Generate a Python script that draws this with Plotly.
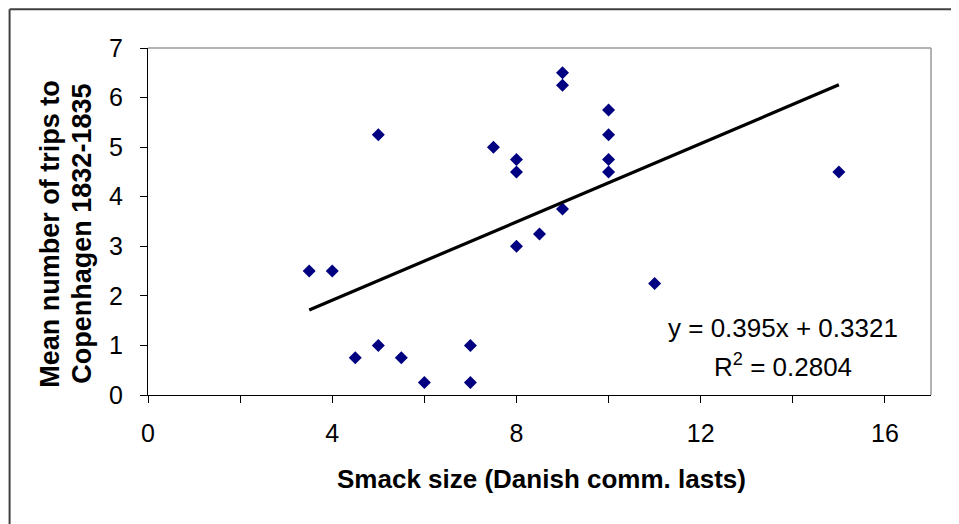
import plotly.graph_objects as go

# Data
smack_size = [3.5, 4, 4.5, 5, 5, 5.5, 6, 7, 7, 7.5, 8, 8, 8, 8.5, 9, 9, 9, 10, 10, 10, 10, 11, 15]
mean_trips = [2.5, 2.5, 0.75, 1.0, 5.25, 0.75, 0.25, 1.0, 0.25, 5.0, 4.75, 4.5, 3.0, 3.25, 6.5, 6.25, 3.75, 5.75, 5.25, 4.75, 4.5, 2.25, 4.5]

trend_slope = 0.395
trend_intercept = 0.3321
r_squared = 0.2804

x_tick_vals = [0, 4, 8, 12, 16]
x_tick_text = ["0", "4", "8", "12", "16"]
x_minor_tick_vals = [0, 2, 4, 6, 8, 10, 12, 14, 16]
y_tick_vals = [0, 1, 2, 3, 4, 5, 6, 7]

x_title = "Smack size (Danish comm. lasts)"
y_title_lines = ["Mean number of trips to", "Copenhagen 1832-1835"]

FONT = "Arial, Liberation Sans, sans-serif"

trend_x = [min(smack_size), max(smack_size)]
trend_y = [trend_slope * v + trend_intercept for v in trend_x]

# page has an 8px body margin; layout below is in page pixels
OFF = 8
PL, PR, PT, PB = 147.5, 931, 47.7, 395   # plot area in page pixels
W, H = 959 - OFF, 524 - OFF
pw = PR - PL
ph = PB - PT

def px(xp):
    return (xp - PL) / pw

def py(yp):
    return (PB - yp) / ph

fig = go.Figure()
fig.add_trace(go.Scatter(
    x=smack_size, y=mean_trips, mode="markers",
    marker=dict(symbol="diamond", size=10, color="#000080", line=dict(width=0)),
    showlegend=False, cliponaxis=False,
))
fig.add_trace(go.Scatter(
    x=trend_x, y=trend_y, mode="lines",
    line=dict(color="black", width=3.2),
    showlegend=False,
))

fig.update_layout(
    width=W, height=H,
    margin=dict(l=PL - OFF, r=W - (PR - OFF), t=PT - OFF, b=H - (PB - OFF), pad=0),
    paper_bgcolor="white", plot_bgcolor="white",
    font=dict(family=FONT, color="black"),
    showlegend=False,
)

fig.update_xaxes(
    range=[0, 17], tickvals=x_tick_vals, ticktext=x_tick_text,
    showgrid=False, zeroline=False,
    showline=True, linecolor="black", linewidth=1.2,
    ticks="outside", ticklen=7, tickwidth=1.2, tickcolor="black",
    minor=dict(tickvals=x_minor_tick_vals, ticks="outside", ticklen=7, tickwidth=1.2,
               tickcolor="black", showgrid=False),
    tickfont=dict(size=25, family=FONT), ticklabelstandoff=9,
)
fig.update_yaxes(
    range=[0, 7], tickvals=y_tick_vals,
    showgrid=False, zeroline=False,
    showline=True, linecolor="black", linewidth=1.2,
    ticks="outside", ticklen=7, tickwidth=1.2, tickcolor="black",
    tickfont=dict(size=25, family=FONT), ticklabelstandoff=12,
)

# top and right plot-area border (gray)
fig.add_shape(type="line", xref="paper", yref="paper", x0=0, x1=1, y0=1, y1=1,
              line=dict(color="#9a9a9a", width=1.5))
fig.add_shape(type="line", xref="paper", yref="paper", x0=1, x1=1, y0=0, y1=1,
              line=dict(color="#9a9a9a", width=1.5))

# outer chart frame (top and left visible, cut at image edges)
fx0 = px(OFF + 1)
fy_top = py(OFF + 1)
fig.add_shape(type="line", xref="paper", yref="paper", x0=fx0, x1=px(1000), y0=fy_top, y1=fy_top,
              line=dict(color="#404040", width=2))
fig.add_shape(type="line", xref="paper", yref="paper", x0=fx0, x1=fx0, y0=fy_top, y1=py(600),
              line=dict(color="#404040", width=2))

# axis titles
fig.add_annotation(text="<b>" + x_title + "</b>", xref="paper", yref="paper",
                   x=px(541), y=py(478.7), showarrow=False,
                   xanchor="center", yanchor="middle", font=dict(size=26, family=FONT))
for line_txt, xc in zip(y_title_lines, [50, 82]):
    fig.add_annotation(text="<b>" + line_txt + "</b>", xref="paper", yref="paper",
                       x=px(xc), y=py(234), showarrow=False, textangle=-90,
                       xanchor="center", yanchor="middle", font=dict(size=27, family=FONT))

# trendline equation
fig.add_annotation(text="y = %.3fx + %.4f" % (trend_slope, trend_intercept),
                   x=13.78, y=1.35, showarrow=False, xanchor="center", yanchor="middle",
                   font=dict(size=26, family=FONT))
fig.add_annotation(text="R<sup>2</sup> = %.4f" % r_squared,
                   x=13.78, y=0.60, showarrow=False, xanchor="center", yanchor="middle",
                   font=dict(size=26, family=FONT))

fig.write_html("out.html")
